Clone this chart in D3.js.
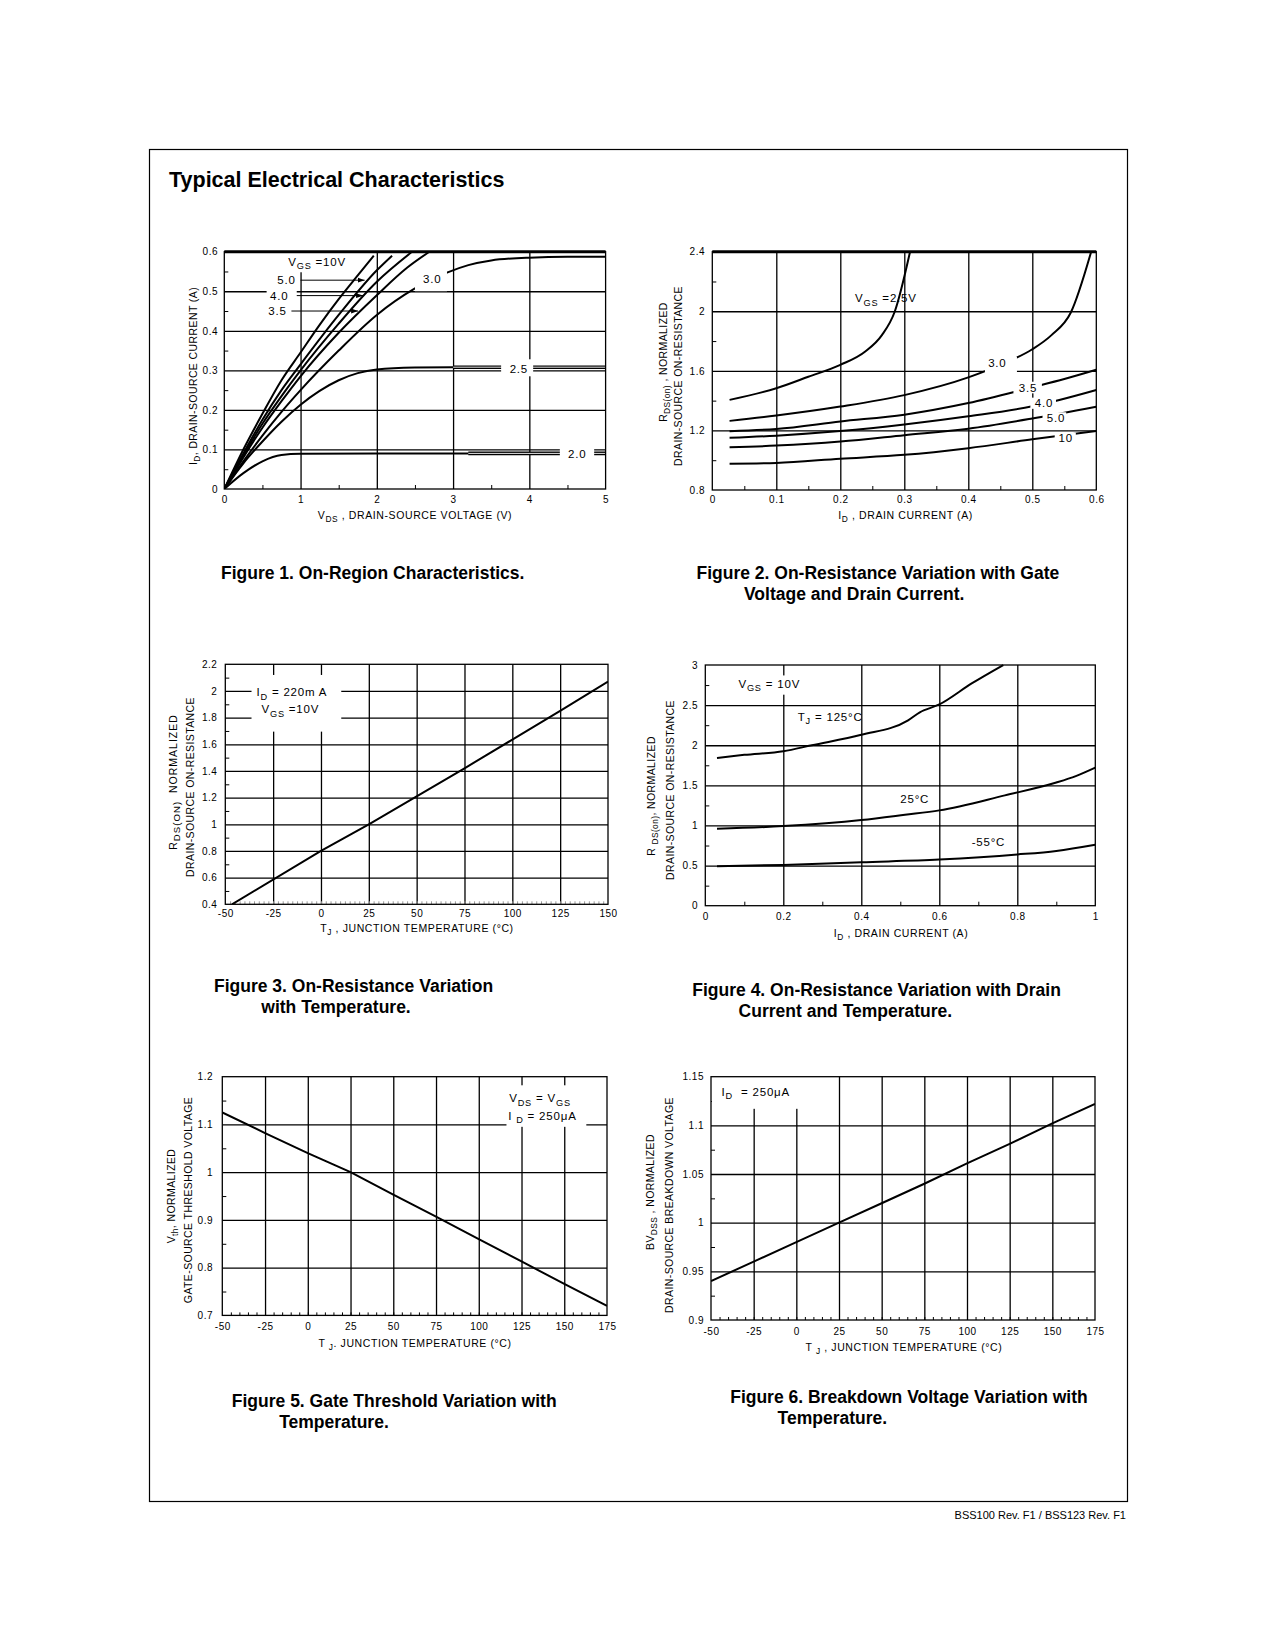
<!DOCTYPE html>
<html><head><meta charset="utf-8">
<script src="https://cdn.jsdelivr.net/npm/d3@7"></script>
<style>
body{margin:0;background:#fff;}
svg{display:block;font-family:"Liberation Sans",Arial,Helvetica,sans-serif;}
text{white-space:pre;}
</style></head><body>
<svg id="page" width="1275" height="1650"></svg>
<script>
// ---------------- DATA ----------------
// Figure 1: On-Region Characteristics (VDS [V], ID [A])
const F1_X_TICKS = [0,1,2,3,4,5];
const F1_X_LABELS = ["0","1","2","3","4","5"];
const F1_Y_TICKS = [0,0.1,0.2,0.3,0.4,0.5,0.6];
const F1_Y_LABELS = ["0","0.1","0.2","0.3","0.4","0.5","0.6"];
const F1_VGS_10 = [[0,0],[0.25,0.1],[0.5,0.19],[0.75,0.275],[1.0,0.345],[1.25,0.415],[1.5,0.48],[1.75,0.54],[1.96,0.59]];
const F1_VGS_5 = [[0,0],[0.25,0.09],[0.5,0.175],[0.75,0.25],[1.0,0.315],[1.5,0.44],[2.0,0.553],[2.2,0.59]];
const F1_VGS_4 = [[0,0],[0.25,0.085],[0.5,0.165],[0.75,0.235],[1.0,0.3],[1.5,0.418],[2.0,0.524],[2.45,0.598]];
const F1_VGS_35 = [[0,0],[0.25,0.08],[0.5,0.155],[0.75,0.222],[1.0,0.285],[1.5,0.395],[2.0,0.49],[2.4,0.56],[2.69,0.6]];
const F1_VGS_3 = [[0,0],[0.25,0.07],[0.5,0.135],[0.75,0.195],[1.0,0.25],[1.5,0.35],[2.0,0.44],[2.5,0.507],[2.92,0.547],[3.2,0.566],[3.5,0.578],[4.0,0.585],[4.5,0.587],[5.0,0.587]];
const F1_VGS_25 = [[0,0],[0.25,0.065],[0.5,0.12],[0.75,0.17],[1.0,0.213],[1.25,0.248],[1.5,0.275],[1.75,0.293],[2.0,0.302],[2.5,0.307],[3.0,0.308],[5.0,0.308]];
const F1_VGS_2 = [[0,0],[0.25,0.04],[0.5,0.07],[0.75,0.086],[1.0,0.089],[2.0,0.09],[5.0,0.09]];

// Figure 2: On-Resistance vs Drain Current (ID [A], normalized RDS(on))
const F2_X_TICKS = [0,0.1,0.2,0.3,0.4,0.5,0.6];
const F2_X_LABELS = ["0","0.1","0.2","0.3","0.4","0.5","0.6"];
const F2_Y_TICKS = [0.8,1.2,1.6,2.0,2.4];
const F2_Y_LABELS = ["0.8","1.2","1.6","2","2.4"];
const F2_VGS_25 = [[0.027,1.405],[0.1,1.483],[0.15,1.56],[0.2,1.64],[0.239,1.73],[0.265,1.84],[0.285,1.997],[0.309,2.4]];
const F2_VGS_3 = [[0.027,1.264],[0.1,1.30],[0.2,1.36],[0.3,1.437],[0.4,1.556],[0.45,1.64],[0.5,1.745],[0.53,1.84],[0.56,1.99],[0.592,2.4]];
const F2_VGS_35 = [[0.027,1.195],[0.1,1.21],[0.2,1.26],[0.3,1.306],[0.4,1.384],[0.5,1.49],[0.55,1.545],[0.6,1.607]];
const F2_VGS_4 = [[0.027,1.15],[0.1,1.165],[0.2,1.196],[0.3,1.24],[0.4,1.295],[0.5,1.362],[0.6,1.472]];
const F2_VGS_5 = [[0.027,1.087],[0.1,1.098],[0.2,1.125],[0.3,1.168],[0.4,1.212],[0.5,1.28],[0.6,1.359]];
const F2_VGS_10 = [[0.027,0.977],[0.1,0.982],[0.2,1.01],[0.3,1.036],[0.4,1.081],[0.5,1.14],[0.6,1.196]];

// Figure 3: On-Resistance vs Temperature (TJ [°C], normalized)
const F3_X_TICKS = [-50,-25,0,25,50,75,100,125,150];
const F3_X_LABELS = ["-50","-25","0","25","50","75","100","125","150"];
const F3_Y_TICKS = [0.4,0.6,0.8,1,1.2,1.4,1.6,1.8,2,2.2];
const F3_Y_LABELS = ["0.4","0.6","0.8","1","1.2","1.4","1.6","1.8","2","2.2"];
const F3_RDS = [[-46.5,0.4],[0,0.8],[25,1.0],[50,1.21],[75,1.42],[100,1.635],[125,1.85],[150,2.07]];

// Figure 4: On-Resistance vs Drain Current and Temperature
const F4_X_TICKS = [0,0.2,0.4,0.6,0.8,1];
const F4_X_LABELS = ["0","0.2","0.4","0.6","0.8","1"];
const F4_Y_TICKS = [0,0.5,1,1.5,2,2.5,3];
const F4_Y_LABELS = ["0","0.5","1","1.5","2","2.5","3"];
const F4_T125 = [[0.03,1.842],[0.1,1.88],[0.2,1.925],[0.273,2.0],[0.4,2.13],[0.52,2.31],[0.55,2.41],[0.6,2.508],[0.683,2.77],[0.764,3.0]];
const F4_T25 = [[0.03,0.958],[0.2,0.992],[0.4,1.067],[0.512,1.133],[0.6,1.188],[0.768,1.375],[0.9,1.535],[0.95,1.615],[1.0,1.72]];
const F4_TM55 = [[0.03,0.492],[0.2,0.508],[0.4,0.542],[0.6,0.575],[0.8,0.638],[0.9,0.683],[1.0,0.76]];

// Figure 5: Gate Threshold vs Temperature
const F5_X_TICKS = [-50,-25,0,25,50,75,100,125,150,175];
const F5_X_LABELS = ["-50","-25","0","25","50","75","100","125","150","175"];
const F5_Y_TICKS = [0.7,0.8,0.9,1,1.1,1.2];
const F5_Y_LABELS = ["0.7","0.8","0.9","1","1.1","1.2"];
const F5_VTH = [[-50,1.125],[-25,1.082],[0,1.04],[25,1.0],[50,0.953],[75,0.907],[100,0.86],[125,0.813],[150,0.766],[175,0.72]];

// Figure 6: Breakdown Voltage vs Temperature
const F6_X_TICKS = [-50,-25,0,25,50,75,100,125,150,175];
const F6_X_LABELS = ["-50","-25","0","25","50","75","100","125","150","175"];
const F6_Y_TICKS = [0.9,0.95,1,1.05,1.1,1.15];
const F6_Y_LABELS = ["0.9","0.95","1","1.05","1.1","1.15"];
const F6_BV = [[-50,0.94],[-25,0.96],[0,0.98],[25,1.0],[50,1.02],[75,1.04],[100,1.061],[125,1.081],[150,1.102],[175,1.122]];

// ---------------- DRAWING ----------------
const svg = d3.select("#page");
const defs = svg.append("defs");
defs.append("marker").attr("id","arr")
  .attr("viewBox","0 0 10 10").attr("refX",10).attr("refY",5)
  .attr("markerWidth",7).attr("markerHeight",7).attr("markerUnits","userSpaceOnUse").attr("orient","auto")
  .append("path").attr("d","M0,1.5 L10,5 L0,8.5 z").attr("fill","#000");

function rich(sel, str, fs, subScale){
  const sc = subScale||0.8;
  const parts = str.split(/(_\{[^}]*\})/).filter(p=>p.length);
  let sub=false;
  parts.forEach(p=>{
    if(p.startsWith("_{")){
      sel.append("tspan").attr("font-size",fs*sc).attr("dy",fs*0.3).text(p.slice(2,-1));
      sub=true;
    } else {
      const t=sel.append("tspan").text(p);
      if(sub){t.attr("dy",-fs*0.3); sub=false;}
    }
  });
  return sel;
}

function styleAxis(s){
  s.attr("font-family",null).attr("font-size",null);
  s.select(".domain").remove();
}

let clipCount=0;
function drawChart(c){
  const g = svg.append("g");
  const x = d3.scaleLinear().domain(c.xDomain).range([c.left,c.right]);
  const y = d3.scaleLinear().domain(c.yDomain).range([c.bottom,c.top]);
  const W = c.right-c.left, H = c.bottom-c.top;

  // grid
  g.append("g").attr("transform",`translate(0,${c.bottom})`)
    .call(d3.axisBottom(x).tickValues(c.gridX).tickSize(-H).tickFormat(""))
    .call(styleAxis).call(s=>s.selectAll("line").attr("stroke","#000").attr("stroke-width",1.3));
  g.append("g").attr("transform",`translate(${c.left},0)`)
    .call(d3.axisLeft(y).tickValues(c.gridY).tickSize(-W).tickFormat(""))
    .call(styleAxis).call(s=>s.selectAll("line").attr("stroke","#000").attr("stroke-width",1.3));
  // minor ticks
  g.append("g").attr("transform",`translate(0,${c.bottom})`)
    .call(d3.axisBottom(x).tickValues(c.minorX).tickSize(-(c.minorXLen||4)).tickFormat(""))
    .call(styleAxis).call(s=>s.selectAll("line").attr("stroke",c.minorXColor||"#000").attr("stroke-width",1));
  g.append("g").attr("transform",`translate(${c.left},0)`)
    .call(d3.axisLeft(y).tickValues(c.minorY).tickSize(-4).tickFormat(""))
    .call(styleAxis).call(s=>s.selectAll("line").attr("stroke","#000").attr("stroke-width",1));

  // curves
  const line = d3.line().x(d=>x(d[0])).y(d=>y(d[1])).curve(c.curve||d3.curveMonotoneX);
  const clipId = "clip"+(clipCount++);
  defs.append("clipPath").attr("id",clipId).append("rect")
    .attr("x",c.left).attr("y",c.top-1).attr("width",W).attr("height",H+1);
  c.series.forEach(s=>{
    g.append("path").attr("d",line(s)).attr("fill","none").attr("stroke","#000")
      .attr("stroke-width",2).attr("stroke-linejoin","round").attr("clip-path",`url(#${clipId})`);
  });
  // double-line rendering of flat tails (as printed in the datasheet)
  (c.doubles||[]).forEach(dd=>{
    const id = "clip"+(clipCount++);
    defs.append("clipPath").attr("id",id).append("rect")
      .attr("x",x(dd.from)).attr("y",c.top).attr("width",c.right-x(dd.from)).attr("height",H);
    g.append("path").attr("d",line(dd.s)).attr("fill","none").attr("stroke","#000")
      .attr("stroke-width",3.6).attr("clip-path",`url(#${id})`);
    g.append("path").attr("d",line(dd.s)).attr("fill","none").attr("stroke","#fff")
      .attr("stroke-width",0.9).attr("clip-path",`url(#${id})`);
  });

  // label boxes
  (c.boxes||[]).forEach(b=>{
    g.append("rect").attr("x",x(b[0])).attr("y",y(b[3])).attr("width",x(b[1])-x(b[0]))
      .attr("height",y(b[2])-y(b[3])).attr("fill","#fff");
  });
  // leaders
  (c.leaders||[]).forEach(l=>{
    g.append("line").attr("x1",x(l[0])).attr("x2",x(l[1])).attr("y1",y(l[2])).attr("y2",y(l[2]))
      .attr("stroke","#000").attr("stroke-width",1).attr("marker-end","url(#arr)");
  });
  // annotation texts
  (c.texts||[]).forEach(t=>{
    const el = g.append("text").attr("x",x(t.x)).attr("y",y(t.y)).attr("dy","0.36em")
      .attr("font-size",11.5).attr("letter-spacing",0.8);
    rich(el,t.t,11.5);
  });

  // border
  g.append("rect").attr("x",c.left).attr("y",c.top).attr("width",W).attr("height",H)
    .attr("fill","none").attr("stroke","#000").attr("stroke-width",1.3);
  if(c.thickTop){
    g.append("line").attr("x1",c.left).attr("x2",c.right).attr("y1",c.top).attr("y2",c.top)
      .attr("stroke","#000").attr("stroke-width",3);
  }

  // tick labels
  const fs=10;
  g.append("g").attr("transform",`translate(0,${c.bottom})`)
    .call(d3.axisBottom(x).tickValues(c.xTicks).tickSize(0)
      .tickPadding(c.xLabelBase-c.bottom-0.71*fs).tickFormat((d,i)=>c.xLabels[i]))
    .call(styleAxis).call(s=>s.selectAll("text").attr("font-size",fs).attr("letter-spacing",0.5).attr("fill","#000"));
  g.append("g").attr("transform",`translate(${c.left},0)`)
    .call(d3.axisLeft(y).tickValues(c.yTicks).tickSize(0)
      .tickPadding(c.left-c.yLabelRight).tickFormat((d,i)=>c.yLabels[i]))
    .call(styleAxis).call(s=>s.selectAll("text").attr("font-size",fs).attr("letter-spacing",0.5).attr("fill","#000"));

  // axis titles
  const tfs=10.5;
  const xt = g.append("text").attr("x",c.xTitle.x).attr("y",c.xTitle.y).attr("text-anchor","middle")
    .attr("font-size",tfs).attr("letter-spacing",0.6);
  rich(xt,c.xTitle.t,tfs);
  c.yTitles.forEach(t=>{
    const yt = g.append("text").attr("transform",`translate(${t.x},${t.y}) rotate(-90)`)
      .attr("text-anchor","middle").attr("font-size",tfs).attr("letter-spacing",t.ls||0.4);
    rich(yt,t.t,tfs,t.sub);
  });
}

// page frame & title
svg.append("rect").attr("x",149.5).attr("y",149.5).attr("width",978).attr("height",1352)
  .attr("fill","none").attr("stroke","#000").attr("stroke-width",1.2);
svg.append("text").attr("x",169).attr("y",187).attr("font-size",21.5).attr("font-weight","bold")
  .text("Typical Electrical Characteristics");
svg.append("text").attr("x",1126).attr("y",1519).attr("text-anchor","end").attr("font-size",11)
  .text("BSS100 Rev. F1 / BSS123 Rev. F1");

// Figure 1
drawChart({
  left:224.3,right:605.6,top:251.7,bottom:489,xDomain:[0,5],yDomain:[0,0.6],
  gridX:[1,2,3,4],gridY:[0.1,0.2,0.3,0.4,0.5],
  minorX:d3.range(0.5,5,1),minorY:d3.range(0.05,0.6,0.1),
  xTicks:F1_X_TICKS,xLabels:F1_X_LABELS,yTicks:F1_Y_TICKS,yLabels:F1_Y_LABELS,
  xLabelBase:503,yLabelRight:218,thickTop:true,
  series:[F1_VGS_10,F1_VGS_5,F1_VGS_4,F1_VGS_35,F1_VGS_3,F1_VGS_25,F1_VGS_2],
  doubles:[{s:F1_VGS_25,from:3.0},{s:F1_VGS_2,from:3.2}],
  boxes:[[0.78,1.62,0.548,0.6],[0.555,0.95,0.472,0.512],[2.5,2.92,0.5,0.562],[3.63,4.05,0.285,0.328],[4.4,4.85,0.066,0.11]],
  leaders:[[1.0,1.84,0.528],[0.95,1.82,0.489],[0.88,1.755,0.45]],
  texts:[{x:0.838,y:0.575,t:"V_{GS} =10V"},{x:0.694,y:0.528,t:"5.0"},{x:0.6,y:0.489,t:"4.0"},
         {x:0.576,y:0.45,t:"3.5"},{x:2.607,y:0.532,t:"3.0"},{x:3.742,y:0.305,t:"2.5"},{x:4.507,y:0.0876,t:"2.0"}],
  xTitle:{x:415,y:519,t:"V_{DS} , DRAIN-SOURCE VOLTAGE (V)"},
  yTitles:[{x:196.5,y:376,t:"I_{D}, DRAIN-SOURCE CURRENT (A)"}]
});

// Figure 2
drawChart({
  left:712.3,right:1096.3,top:251.7,bottom:490,xDomain:[0,0.6],yDomain:[0.8,2.4],
  gridX:[0.1,0.2,0.3,0.4,0.5],gridY:[1.2,1.6,2.0],
  minorX:d3.range(0.05,0.6,0.1),minorY:[1.0,1.4,1.8,2.2],
  xTicks:F2_X_TICKS,xLabels:F2_X_LABELS,yTicks:F2_Y_TICKS,yLabels:F2_Y_LABELS,
  xLabelBase:503,yLabelRight:705,thickTop:true,
  series:[F2_VGS_25,F2_VGS_3,F2_VGS_35,F2_VGS_4,F2_VGS_5,F2_VGS_10],
  boxes:[[0.426,0.476,1.583,1.695],[0.4705,0.515,1.449,1.527],[0.497,0.537,1.345,1.42],[0.516,0.553,1.25,1.322],[0.535,0.568,1.115,1.185]],
  texts:[{x:0.223,y:2.087,t:"V_{GS} =2.5V"},{x:0.431,y:1.657,t:"3.0"},{x:0.479,y:1.487,t:"3.5"},
         {x:0.504,y:1.382,t:"4.0"},{x:0.5225,y:1.286,t:"5.0"},{x:0.541,y:1.15,t:"10"}],
  xTitle:{x:905.6,y:519,t:"I_{D} , DRAIN CURRENT (A)"},
  yTitles:[{x:667,y:362,t:"R_{DS(on)} , NORMALIZED"},{x:681.5,y:376,t:"DRAIN-SOURCE ON-RESISTANCE"}]
});

// Figure 3
drawChart({
  left:225.3,right:608,top:664.3,bottom:904.3,xDomain:[-50,150],yDomain:[0.4,2.2],
  gridX:[-25,0,25,50,75,100,125],gridY:[0.6,0.8,1,1.2,1.4,1.6,1.8,2],
  minorX:d3.range(-47.5,150,2.5),minorXLen:3,minorXColor:"#999",minorY:d3.range(0.5,2.2,0.2),
  xTicks:F3_X_TICKS,xLabels:F3_X_LABELS,yTicks:F3_Y_TICKS,yLabels:F3_Y_LABELS,
  xLabelBase:917,yLabelRight:217.3,curve:d3.curveLinear,
  series:[F3_RDS],
  boxes:[[-36.3,10.6,1.695,2.12]],
  texts:[{x:-33.7,y:1.99,t:"I_{D} = 220m A"},{x:-31.1,y:1.865,t:"V_{GS} =10V"}],
  xTitle:{x:417,y:932,t:"T_{J} , JUNCTION TEMPERATURE (°C)"},
  yTitles:[{x:177,y:782,t:"R_{DS(ON)}  NORMALIZED",ls:1.0,sub:0.92},{x:193.5,y:787,t:"DRAIN-SOURCE ON-RESISTANCE"}]
});

// Figure 4
drawChart({
  left:705.3,right:1095.3,top:665,bottom:905.7,xDomain:[0,1],yDomain:[0,3],
  gridX:[0.2,0.4,0.6,0.8],gridY:[0.5,1,1.5,2,2.5],
  minorX:d3.range(0.1,1,0.2),minorY:d3.range(0.25,3,0.5),
  xTicks:F4_X_TICKS,xLabels:F4_X_LABELS,yTicks:F4_Y_TICKS,yLabels:F4_Y_LABELS,
  xLabelBase:920.5,yLabelRight:698,
  series:[F4_T125,F4_T25,F4_TM55],
  boxes:[[0.075,0.255,2.63,2.87]],
  texts:[{x:0.085,y:2.77,t:"V_{GS} = 10V"},{x:0.237,y:2.354,t:"T_{J} = 125°C"},
         {x:0.5,y:1.333,t:"25°C"},{x:0.683,y:0.792,t:"-55°C"}],
  xTitle:{x:901,y:937,t:"I_{D} , DRAIN CURRENT (A)"},
  yTitles:[{x:655,y:796,t:"R _{DS(on)}, NORMALIZED"},{x:673.5,y:790,t:"DRAIN-SOURCE ON-RESISTANCE"}]
});

// Figure 5
drawChart({
  left:222.3,right:607,top:1076.7,bottom:1315.4,xDomain:[-50,175],yDomain:[0.7,1.2],
  gridX:[-25,0,25,50,75,100,125,150],gridY:[0.8,0.9,1,1.1],
  minorX:d3.range(-45,175,5),minorXLen:3,minorY:d3.range(0.75,1.2,0.1),
  xTicks:F5_X_TICKS,xLabels:F5_X_LABELS,yTicks:F5_Y_TICKS,yLabels:F5_Y_LABELS,
  xLabelBase:1330.5,yLabelRight:213,curve:d3.curveLinear,
  series:[F5_VTH],
  boxes:[[116.2,162.9,1.095,1.182]],
  texts:[{x:117.8,y:1.155,t:"V_{DS} = V_{GS}"},{x:117.2,y:1.119,t:"I _{D} = 250μA"}],
  xTitle:{x:415,y:1347,t:"T _{J}. JUNCTION TEMPERATURE (°C)"},
  yTitles:[{x:174.5,y:1196,t:"V_{th}, NORMALIZED"},{x:191.5,y:1200,t:"GATE-SOURCE THRESHOLD VOLTAGE"}]
});

// Figure 6
drawChart({
  left:711,right:1095,top:1076.7,bottom:1320,xDomain:[-50,175],yDomain:[0.9,1.15],
  gridX:[-25,0,25,50,75,100,125,150],gridY:[0.95,1,1.05,1.1],
  minorX:d3.range(-45,175,5),minorXLen:3,minorY:d3.range(0.925,1.15,0.05),
  xTicks:F6_X_TICKS,xLabels:F6_X_LABELS,yTicks:F6_Y_TICKS,yLabels:F6_Y_LABELS,
  xLabelBase:1334.5,yLabelRight:704,curve:d3.curveLinear,
  series:[F6_BV],
  boxes:[[-49.5,1.5,1.117,1.15]],
  texts:[{x:-43.8,y:1.1346,t:"I_{D}  = 250μA"}],
  xTitle:{x:904,y:1351,t:"T _{J} , JUNCTION TEMPERATURE (°C)"},
  yTitles:[{x:654,y:1192,t:"BV_{DSS} , NORMALIZED"},{x:673,y:1205,t:"DRAIN-SOURCE BREAKDOWN VOLTAGE"}]
});

// captions
const CAPTIONS = [
  [221,579,"Figure 1. On-Region Characteristics."],
  [696.5,579,"Figure 2. On-Resistance Variation with Gate"],
  [744,600,"Voltage and Drain Current."],
  [214,992,"Figure 3. On-Resistance Variation"],
  [261.3,1013,"with Temperature."],
  [692.3,996,"Figure 4. On-Resistance Variation with Drain"],
  [738.6,1017,"Current and Temperature."],
  [231.8,1407,"Figure 5. Gate Threshold Variation with"],
  [279.2,1428,"Temperature."],
  [730.2,1403,"Figure 6. Breakdown Voltage Variation with"],
  [777.6,1424,"Temperature."]
];
svg.append("g").selectAll("text").data(CAPTIONS).join("text")
  .attr("x",d=>d[0]).attr("y",d=>d[1]).attr("font-size",17.5).attr("font-weight","bold").text(d=>d[2]);
</script>
</body></html>
